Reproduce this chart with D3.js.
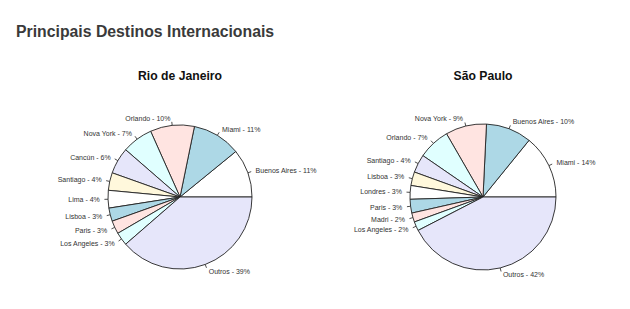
<!DOCTYPE html>
<html>
<head>
<meta charset="utf-8">
<script src="https://cdn.jsdelivr.net/npm/d3@7"></script>
<style>
  body { margin: 0; background: #fff; }
  svg { display: block; font-family: "Liberation Sans", Arial, Helvetica, sans-serif; }
</style>
</head>
<body>
<div id="chart"></div>
<script>
var consts = {
    width: 630,
    height: 309
};

// R default pie palette, repeats every 6 slices
var palette = ["#ffffff", "#add8e6", "#ffe4e1", "#e0ffff", "#e6e6fa", "#fff8dc"];

var rioLabels = ["Buenos Aires", "Miami", "Orlando", "Nova York", "Cancún", "Santiago",
    "Lima", "Lisboa", "Paris", "Los Angeles", "Outros"];
var rioValues = [11, 11, 10, 7, 6, 4, 4, 3, 3, 3, 39];

var spLabels = ["Miami", "Buenos Aires", "Nova York", "Orlando", "Santiago", "Lisboa",
    "Londres", "Paris", "Madri", "Los Angeles", "Outros"];
var spValues = [14, 10, 9, 7, 4, 3, 3, 3, 2, 2, 42];

var vis = d3.select("#chart").append("svg")
    .attr("width", consts.width)
    .attr("height", consts.height);

vis.append("text")
    .attr("x", 16)
    .attr("y", 37)
    .attr("font-size", 15.8)
    .attr("font-weight", "bold")
    .attr("fill", "#3a3a3a")
    .text("Principais Destinos Internacionais");

function drawPie(title, labels, values, cx, cy, r) {
    var data = labels.map(function (l, i) { return { label: l, value: values[i] }; });

    // R style: start at 3 o'clock, go counterclockwise
    var pie = d3.pie()
        .sort(null)
        .value(function (d) { return d.value; })
        .startAngle(Math.PI / 2)
        .endAngle(Math.PI / 2 - 2 * Math.PI);

    var arc = d3.arc().innerRadius(0).outerRadius(r);
    var g = vis.append("g").attr("transform", "translate(" + cx + "," + cy + ")");

    g.append("text")
        .attr("x", 0)
        .attr("y", -117)
        .attr("text-anchor", "middle")
        .attr("font-size", 12.2)
        .attr("font-weight", "bold")
        .attr("fill", "#111")
        .text(title);

    var arcs = pie(data);

    g.selectAll("path")
        .data(arcs)
        .enter()
        .append("path")
        .attr("d", arc)
        .attr("fill", function (d, i) { return palette[i % palette.length]; })
        .attr("stroke", "#222")
        .attr("stroke-width", 0.9);

    arcs.forEach(function (d) {
        var a = (d.startAngle + d.endAngle) / 2;
        var sx = Math.sin(a), sy = -Math.cos(a);
        g.append("line")
            .attr("x1", r * sx).attr("y1", r * sy)
            .attr("x2", r * 1.05 * sx).attr("y2", r * 1.05 * sy)
            .attr("stroke", "#222")
            .attr("stroke-width", 0.8);
        g.append("text")
            .attr("x", r * 1.1 * sx + (sx > 0 ? 1 : -1))
            .attr("y", r * 1.1 * sy)
            .attr("dy", "0.35em")
            .attr("text-anchor", sx > 0 ? "start" : "end")
            .attr("font-size", 7)
            .attr("fill", "#333")
            .text(d.data.label + " - " + d.data.value + "%");
    });
}

drawPie("Rio de Janeiro", rioLabels, rioValues, 180, 197, 72);
drawPie("São Paulo", spLabels, spValues, 483, 197, 73);
</script>
</body>
</html>
